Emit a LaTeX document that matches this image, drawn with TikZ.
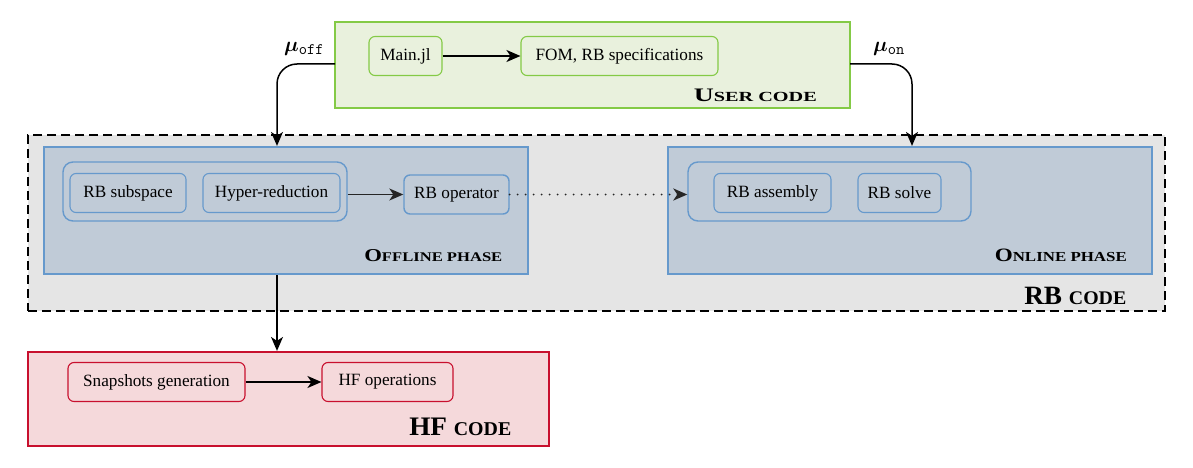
\documentclass[tikz,border=0pt]{standalone}
\usepackage{amsmath,amsbsy}
\usepackage{graphicx}
\usepackage{fontspec}
\setmainfont{Liberation Serif}
\usetikzlibrary{arrows.meta}
\definecolor{ugreen}{HTML}{84CA46}
\definecolor{ugreenfill}{HTML}{E9F1DD}
\definecolor{rbgray}{HTML}{E5E5E5}
\definecolor{bblue}{HTML}{6699CC}
\definecolor{bfill}{HTML}{C0CBD7}
\definecolor{hred}{HTML}{C8102E}
\definecolor{hfill}{HTML}{F5D9DB}
\newcommand{\sclabel}[4]{\resizebox{#1pt}{#2pt}{\fontsize{10}{10}\selectfont\bfseries #3\fontsize{7.3}{7.3}\selectfont #4}}
\newcommand{\mulabel}[1]{{\fontsize{20}{20}\selectfont$\boldsymbol{\mu}$}\raisebox{-3.5pt}{\fontsize{16}{16}\selectfont\ttfamily #1}}
\begin{document}
\begin{tikzpicture}[x=1pt,y=-1pt,
  item/.style={rounded corners=6pt, line width=1.1pt, inner sep=0pt, minimum height=39pt, font=\fontsize{17.2}{19}\selectfont},
  bigbox/.style={line width=2.2pt, inner sep=0pt},
  group/.style={rounded corners=10pt, line width=1.4pt, inner sep=0pt, minimum height=59pt},
  lbl/.style={anchor=base east, inner sep=0pt},
  arr/.style={-{Stealth[length=14pt,width=12pt,inset=4pt]}, line width=1.5pt},
]
\useasboundingbox (0,0) rectangle (1193,468);
% RB code box
\node[draw=black, fill=rbgray, line width=1.2pt, dash pattern=on 9pt off 5pt, minimum width=1137pt, minimum height=176pt, inner sep=0pt] (rb) at (596.5,223) {};
% user code
\node[bigbox, draw=ugreen, fill=ugreenfill, minimum width=515pt, minimum height=86pt] (user) at (592.5,65) {};
\node[item, draw=ugreen, minimum width=73pt] (main) at (405.5,56) {Main.jl};
\node[item, draw=ugreen, minimum width=197pt] (fom) at (619.5,56) {FOM, RB specifications};
\draw[arr] (main) -- (fom);
\node[lbl] (userlbl) at (817,102) {\sclabel{123}{12.5}{U}{SER CODE}};
% offline
\node[bigbox, draw=bblue, fill=bfill, minimum width=484pt, minimum height=127pt] (off) at (286,210.5) {};
\node[group, draw=bblue, minimum width=284pt] (offg) at (205,191.5) {};
\node[item, draw=bblue, minimum width=116pt] (rbs) at (128,193) {RB subspace};
\node[item, draw=bblue, minimum width=137pt] (hyp) at (271.5,193) {Hyper-reduction};
\node[item, draw=bblue, minimum width=105pt, line width=1.4pt] (rbo) at (456.5,194.5) {RB operator};
\draw[arr, black!85] (offg.east |- rbo.west) -- (rbo.west);
\node[lbl] (offlbl) at (502.5,261.5) {\sclabel{138}{12}{O}{FFLINE PHASE}};
% online
\node[bigbox, draw=bblue, fill=bfill, minimum width=484pt, minimum height=127pt] (on) at (910,210.5) {};
\node[group, draw=bblue, minimum width=283pt] (ong) at (829.5,191.5) {};
\node[item, draw=bblue, minimum width=117pt] (rba) at (772.5,193) {RB assembly};
\node[item, draw=bblue, minimum width=83pt] (rbsol) at (899.5,193) {RB solve};
\node[lbl] (onlbl) at (1127,261) {\sclabel{132}{12.5}{O}{NLINE PHASE}};
\draw[black!85, line width=2pt, line cap=round, dash pattern=on 0pt off 8pt, -{Stealth[length=14pt,width=12pt,inset=4pt,line cap=butt]}] (rbo.east) -- (ong.west |- rbo.east);
\node[lbl] (rblbl) at (1126.5,304) {\sclabel{102}{17.3}{RB }{CODE}};
% HF
\node[bigbox, draw=hred, fill=hfill, minimum width=521pt, minimum height=94pt] (hf) at (288.5,399) {};
\node[item, draw=hred, minimum width=177pt] (snap) at (156.5,382) {Snapshots generation};
\node[item, draw=hred, minimum width=131pt] (hfo) at (387.5,382) {HF operations};
\draw[arr] (snap) -- (hfo);
\node[lbl] (hflbl) at (511.5,435) {\sclabel{102}{17.5}{HF }{CODE}};
% connectors
\draw[arr] (off.south -| 277,0) -- (hf.north -| 277,0);
\coordinate (ul) at (335,64);
\coordinate (ur) at (850,64);
\draw[arr, rounded corners=20pt] (ul) -| (off.north -| 277,0);
\draw[arr, rounded corners=20pt] (ur) -| (on.north -| 912,0);
\node[anchor=base west, inner sep=0pt] (muoff) at (284,51.5) {\mulabel{off}};
\node[anchor=base west, inner sep=0pt] (muon) at (873,51.5) {\mulabel{on}};
\end{tikzpicture}
\end{document}
